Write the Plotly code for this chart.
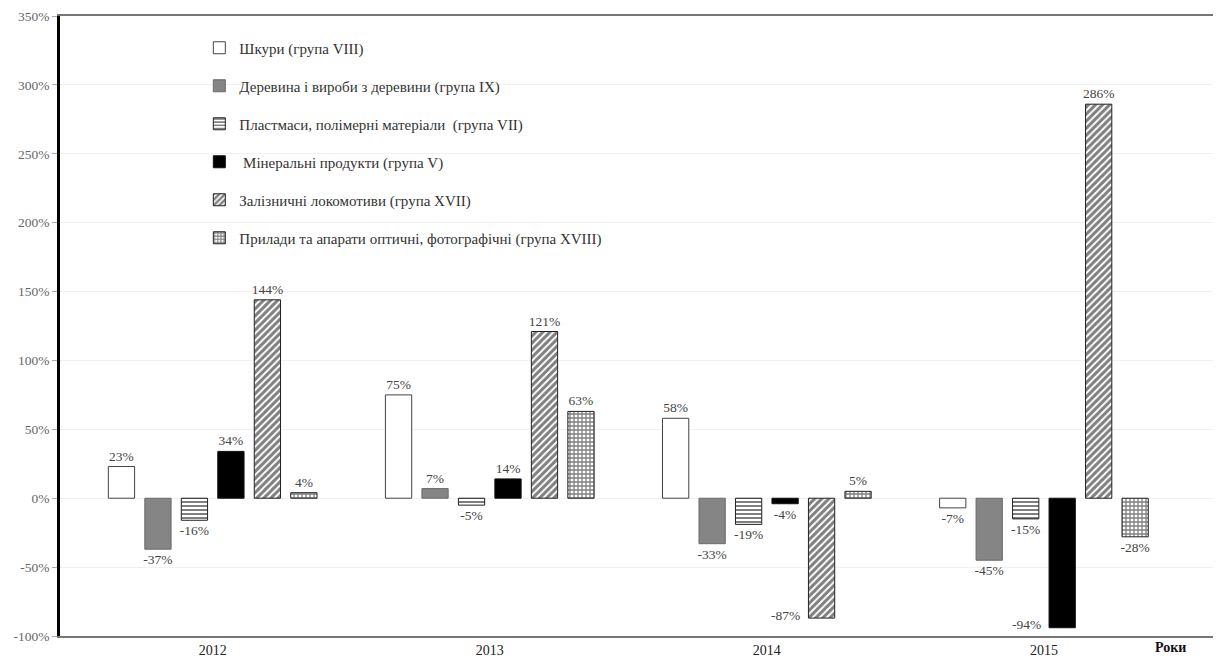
import plotly.graph_objects as go

years = ["2012", "2013", "2014", "2015"]
series_names = [
    "Шкури (група VIII)",
    "Деревина і вироби з деревини (група IX)",
    "Пластмаси, полімерні матеріали  (група VII)",
    " Мінеральні продукти (група V)",
    "Залізничні локомотиви (група XVII)",
    "Прилади та апарати оптичні, фотографічні (група XVIII)",
]
skins = [23, 75, 58, -7]
wood = [-37, 7, -33, -45]
plastics = [-16, -5, -19, -15]
minerals = [34, 14, -4, -94]
locomotives = [144, 121, -87, 286]
optics = [4, 63, 5, -28]
y_ticks = [-100, -50, 0, 50, 100, 150, 200, 250, 300, 350]
y_tick_labels = [f"{v}%" for v in y_ticks]

values = [skins, wood, plastics, minerals, locomotives, optics]
styles = [
    dict(color="white", line=dict(color="#444", width=1)),
    dict(color="#858585", line=dict(color="#6a6a6a", width=1)),
    dict(color="white", line=dict(color="#222", width=1),
         pattern=dict(shape="-", fgcolor="black", bgcolor="white", size=4, solidity=0.5)),
    dict(color="black", line=dict(color="#111", width=1)),
    dict(color="white", line=dict(color="#222", width=1),
         pattern=dict(shape="/", fgcolor="black", bgcolor="white", size=5, solidity=0.6)),
    dict(color="white", line=dict(color="#222", width=1),
         pattern=dict(shape="+", fgcolor="black", bgcolor="white", size=4, solidity=0.55)),
]

serif = "Liberation Serif"
W, H = 1213, 658
ML, MT, MB = 52, 8, 30
PW, PH = W - ML, H - MT - MB
BARGAP, GROUPGAP = 0.21, 0.28
X_RANGE = [-0.551, 3.639]
n_series = len(values)
cat_px = PW / (X_RANGE[1] - X_RANGE[0])
pitch = cat_px * (1 - BARGAP) / n_series
half_bar = pitch * (1 - GROUPGAP) / 2
LOW = -80  # labels of very deep bars go to the left of the bar end
LABEL_SIZE = 13.5

fig = go.Figure()
annotations = []
for i, (name, vals, st) in enumerate(zip(series_names, values, styles)):
    texts = []
    for j, v in enumerate(vals):
        if v < LOW:
            texts.append("")
            offset = (i - (n_series - 1) / 2) * pitch
            annotations.append(dict(
                x=j, y=v, xref="x", yref="y", text=f"{v}%", showarrow=False,
                xanchor="right", yanchor="middle", xshift=offset - half_bar - 6, yshift=3,
                font=dict(family=serif, size=LABEL_SIZE, color="#444")))
        else:
            texts.append(f"{v}%")
    fig.add_trace(go.Bar(
        x=years, y=vals, name=name, marker=st,
        text=texts, textposition="outside", constraintext="none",
        textfont=dict(family=serif, size=LABEL_SIZE, color="#444"),
        cliponaxis=False, legendgroup=f"g{i}",
    ))

annotations.append(dict(text="<b>Роки</b>", xref="paper", yref="paper",
                        x=(1180 - ML) / PW, y=-(649 - (MT + PH)) / PH,
                        showarrow=False, font=dict(family=serif, size=14, color="#111")))

fig.update_layout(
    width=W, height=H,
    margin=dict(l=ML, r=0, t=MT, b=MB),
    paper_bgcolor="white", plot_bgcolor="white",
    barmode="group", bargap=BARGAP, bargroupgap=GROUPGAP,
    font=dict(family=serif, color="#333"),
    showlegend=True,
    legend=dict(x=0.12, y=0.975, xanchor="left", yanchor="top",
                bgcolor="rgba(0,0,0,0)", tracegroupgap=15.5,
                font=dict(family=serif, size=15, color="#333"),
                itemwidth=30),
    xaxis=dict(type="category", range=X_RANGE,
               showline=True, linecolor="#777", linewidth=1.5, mirror=True,
               showgrid=False, ticks="", tickfont=dict(family=serif, size=14, color="#222")),
    yaxis=dict(range=[-100, 350], tickvals=y_ticks, ticktext=y_tick_labels,
               showline=True, linecolor="black", linewidth=2.5,
               showgrid=True, gridcolor="#f1f1f1", gridwidth=1,
               zeroline=False, ticks="outside", ticklen=5, tickcolor="#aaa",
               tickfont=dict(family=serif, size=13.5, color="#666")),
    annotations=annotations,
)

fig.write_html("out.html")
